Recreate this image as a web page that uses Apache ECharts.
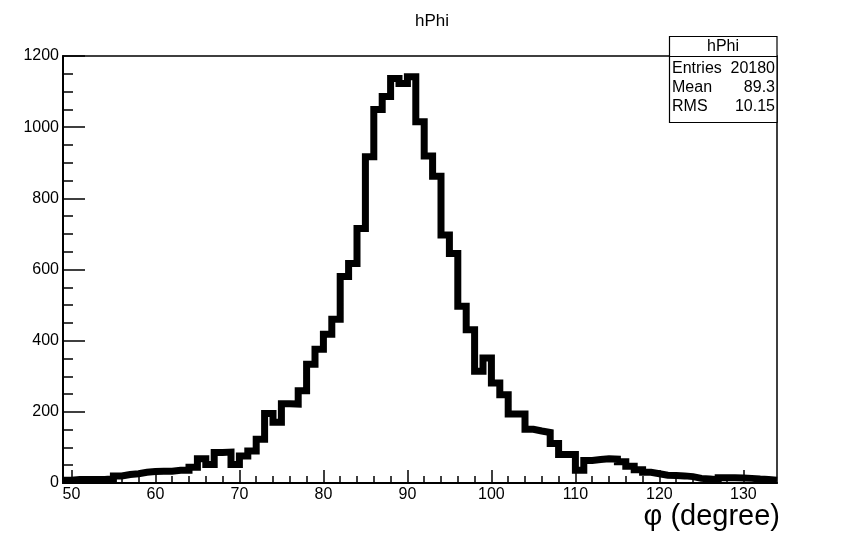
<!DOCTYPE html>
<html>
<head>
<meta charset="utf-8">
<script src="https://cdn.jsdelivr.net/npm/echarts@6/dist/echarts.min.js"></script>
<style>html,body{margin:0;padding:0;background:#fff}#c{width:864px;height:533px}</style>
</head>
<body>
<div id="c"></div>
<script>
// Histogram hPhi: 1-degree bins from 49 to 134
const binLow = 49;
const binWidth = 1;
const counts = [
  8, 10, 10, 10, 10, 12, 20, 24, 26, 30,      // 49-58
  32, 33, 33, 36, 36, 44, 68, 52, 86, 87,     // 59-68
  52, 76, 90, 123, 195, 171, 223, 222, 259, 334, // 69-78
  376, 418, 460, 580, 617, 715, 917, 1050, 1086, 1137, // 79-88
  1123, 1142, 1015, 919, 862, 697, 645, 497, 431, 314, // 89-98
  351, 281, 248, 194, 194, 151, 146, 142, 111, 80,  // 99-108
  80, 36, 63, 66, 68, 67, 60, 47, 37, 30,     // 109-118
  26, 22, 21, 20, 18, 13, 11, 9, 15, 15,      // 119-128
  14, 13, 11, 10, 8                           // 129-133
];
const xMajorTicks = [50, 60, 70, 80, 90, 100, 110, 120, 130];
const xMinorTicks = [52,54,56,58,62,64,66,68,72,74,76,78,82,84,86,88,92,94,96,98,102,104,106,108,112,114,116,118,122,124,126,128,132];
const statsTitle = 'hPhi';
const statsLabels = ['Entries', 'Mean', 'RMS'];
const statsValues = ['20180', '89.3', '10.15'];
const xTitle = 'φ (degree)';

const xMin = binLow, xMax = binLow + counts.length * binWidth;
const stepData = counts.map((v, i) => [binLow + i * binWidth, v]);
stepData.push([xMax, counts[counts.length - 1]]);

const font = 'Liberation Sans, Arial, Helvetica, sans-serif';
const chart = echarts.init(document.getElementById('c'), null, {renderer: 'canvas'});

const gl = 63, gr = 777, gt = 56, gb = 483;

chart.setOption({
  animation: false,
  backgroundColor: '#fff',
  title: {
    text: 'hPhi', left: 'center', top: 8,
    textStyle: {fontFamily: font, fontSize: 17, fontWeight: 'normal', color: '#000'}
  },
  grid: {
    left: gl, right: 864 - gr, top: gt, bottom: 533 - gb,
    show: true, borderColor: '#000', borderWidth: 1.5, backgroundColor: 'transparent'
  },
  xAxis: [{
    type: 'value', min: xMin, max: xMax,
    axisLine: {show: true, onZero: false, lineStyle: {color: '#000', width: 2}},
    axisTick: {show: true, inside: true, length: 13, customValues: xMajorTicks, lineStyle: {color: '#000', width: 1.5}},
    axisLabel: {show: true, customValues: xMajorTicks, margin: 4, color: '#000', fontFamily: font, fontSize: 16},
    splitLine: {show: false}
  }, {
    type: 'value', min: xMin, max: xMax, position: 'bottom',
    axisLine: {show: false},
    axisTick: {show: true, inside: true, length: 7, customValues: xMinorTicks, lineStyle: {color: '#000', width: 1.5}},
    axisLabel: {show: false},
    splitLine: {show: false}
  }],
  yAxis: {
    type: 'value', min: 0, max: 1200, interval: 200,
    axisLine: {show: true, lineStyle: {color: '#000', width: 2}},
    axisTick: {show: true, inside: true, length: 22, lineStyle: {color: '#000', width: 1.5}},
    minorTick: {show: true, splitNumber: 4, length: 10, lineStyle: {color: '#000', width: 1.5}},
    axisLabel: {margin: 4, color: '#000', fontFamily: font, fontSize: 16, formatter: v => String(v)},
    splitLine: {show: false}
  },
  series: [{
    type: 'line', xAxisIndex: 0, step: 'end', data: stepData,
    symbol: 'none', clip: false,
    lineStyle: {color: '#000', width: 7, join: 'miter', cap: 'butt'}
  }],
  graphic: [
    {type: 'rect', shape: {x: 669.5, y: 36.5, width: 107.5, height: 86}, style: {fill: '#fff', stroke: '#000', lineWidth: 1.2}, z: 100},
    {type: 'line', shape: {x1: 669.5, y1: 56.5, x2: 777, y2: 56.5}, style: {stroke: '#000', lineWidth: 1.2}, z: 101},
    {type: 'text', x: 723, y: 46.5, style: {text: statsTitle, font: '16px ' + font, fill: '#000', align: 'center', verticalAlign: 'middle'}, z: 102},
    ...statsLabels.map((t, i) => ({type: 'text', x: 672, y: 69 + i * 19, style: {text: t, font: '16px ' + font, fill: '#000', align: 'left', verticalAlign: 'middle'}, z: 102})),
    ...statsValues.map((t, i) => ({type: 'text', x: 775, y: 69 + i * 19, style: {text: t, font: '16px ' + font, fill: '#000', align: 'right', verticalAlign: 'middle'}, z: 102})),
    {type: 'text', x: 780, y: 517, style: {text: xTitle, font: '29px ' + font, fill: '#000', align: 'right', verticalAlign: 'middle'}, z: 102}
  ]
});
</script>
</body>
</html>
